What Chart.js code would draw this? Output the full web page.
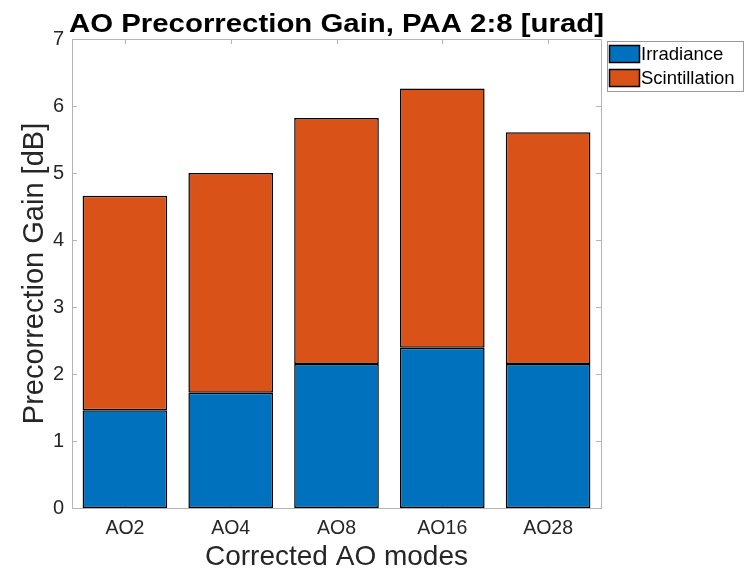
<!DOCTYPE html>
<html>
<head>
<meta charset="utf-8">
<script src="https://cdn.jsdelivr.net/npm/chart.js@4"></script>
<style>
  html, body { margin: 0; padding: 0; background: #fff; }
  #wrap { width: 747px; height: 574px; }
</style>
</head>
<body>
<div id="wrap"><canvas id="gainChart" width="747" height="574"></canvas></div>
<script>
// chart data
const modes = ['AO2', 'AO4', 'AO8', 'AO16', 'AO28'];
const irradiance = [1.46, 1.72, 2.15, 2.39, 2.15];
const scintillation = [3.20, 3.28, 3.67, 3.87, 3.46];
const yMin = 0, yMax = 7, yStep = 1;

const chartTitle = 'AO Precorrection Gain, PAA 2:8 [urad]';
const xTitle = 'Corrected AO modes';
const yTitle = 'Precorrection Gain [dB]';

const FONT = '"Liberation Sans", Arial, Helvetica, sans-serif';
const BLUE = '#0072BD';
const ORANGE = '#D95319';
const AXIS = '#b4b4b4';
const TEXT = '#262626';

// box, inward ticks, title and legend the matlab way
const matlabLook = {
  id: 'matlabLook',
  beforeDatasetsDraw(chart) {
    const { ctx, chartArea: a, scales } = chart;
    ctx.save();
    ctx.strokeStyle = AXIS;
    ctx.lineWidth = 1;
    ctx.strokeRect(a.left + 0.5, a.top + 0.5, a.right - a.left, a.bottom - a.top);
    const tl = 5;
    ctx.beginPath();
    scales.y.ticks.forEach(t => {
      const y = Math.round(scales.y.getPixelForValue(t.value)) + 0.5;
      ctx.moveTo(a.left, y); ctx.lineTo(a.left + tl, y);
      ctx.moveTo(a.right, y); ctx.lineTo(a.right - tl, y);
    });
    modes.forEach((m, i) => {
      const x = Math.round(scales.x.getPixelForValue(i)) + 0.5;
      ctx.moveTo(x, a.bottom); ctx.lineTo(x, a.bottom - tl);
      ctx.moveTo(x, a.top); ctx.lineTo(x, a.top + tl);
    });
    ctx.stroke();
    ctx.restore();
  },
  afterDraw(chart) {
    const { ctx, chartArea: a } = chart;
    ctx.save();
    // title, stretched wide like the original
    ctx.font = 'bold 25px ' + FONT;
    ctx.fillStyle = '#000';
    ctx.textAlign = 'left';
    ctx.textBaseline = 'alphabetic';
    const w = ctx.measureText(chartTitle).width;
    const targetW = 535;
    const sx = targetW / w;
    const cx = (a.left + a.right) / 2;
    ctx.translate(cx - targetW / 2, 32);
    ctx.scale(sx, 1);
    ctx.fillText(chartTitle, 0, 0);
    ctx.restore();

    // legend
    ctx.save();
    const lx = 607, ly = 41, lw = 136, lh = 50;
    ctx.fillStyle = '#fff';
    ctx.fillRect(lx, ly, lw, lh);
    ctx.strokeStyle = '#9a9a9a';
    ctx.lineWidth = 1;
    ctx.strokeRect(lx + 0.5, ly + 0.5, lw, lh);
    ctx.font = '18.5px ' + FONT;
    ctx.textBaseline = 'middle';
    chart.data.datasets.forEach((ds, i) => {
      const sy = 45 + i * 24;
      ctx.fillStyle = ds.backgroundColor;
      ctx.fillRect(609, sy, 31, 18);
      ctx.strokeStyle = '#000';
      ctx.lineWidth = 1.5;
      ctx.strokeRect(609.5, sy + 0.5, 30, 17);
      ctx.fillStyle = '#000';
      ctx.fillText(ds.label, 641, sy + 10);
    });
    ctx.restore();
  }
};

const ctx = document.getElementById('gainChart').getContext('2d');
const chart = new Chart(ctx, {
  type: 'bar',
  data: {
    labels: modes,
    datasets: [
      {
        label: 'Irradiance',
        data: irradiance,
        backgroundColor: BLUE,
        borderColor: '#000',
        borderWidth: 1.5,
        borderSkipped: false
      },
      {
        label: 'Scintillation',
        data: scintillation,
        backgroundColor: ORANGE,
        borderColor: '#000',
        borderWidth: 1.5,
        borderSkipped: false
      }
    ]
  },
  options: {
    responsive: false,
    animation: false,
    devicePixelRatio: 1,
    layout: { padding: { top: 39, right: 146, left: 0, bottom: 0 } },
    plugins: {
      legend: { display: false },
      title: { display: false },
      tooltip: { enabled: false }
    },
    datasets: {
      bar: { barPercentage: 0.8, categoryPercentage: 1.0 }
    },
    scales: {
      x: {
        stacked: true,
        grid: { display: false, drawTicks: false },
        border: { display: false },
        ticks: { color: TEXT, font: { family: FONT, size: 19.5 }, padding: 9, maxRotation: 0 },
        title: { display: true, text: xTitle, color: TEXT, font: { family: FONT, size: 28 }, padding: 0 },
        afterFit: (scale) => { scale.height = 66; }
      },
      y: {
        stacked: true,
        min: yMin,
        max: yMax,
        grid: { display: false, drawTicks: false },
        border: { display: false },
        ticks: { stepSize: yStep, color: TEXT, font: { family: FONT, size: 20 }, padding: 8 },
        title: { display: true, text: yTitle, color: TEXT, font: { family: FONT, size: 29 }, padding: { top: 18, bottom: 0 } },
        afterFit: (scale) => { scale.width = 72; }
      }
    }
  },
  plugins: [matlabLook]
});
</script>
</body>
</html>
